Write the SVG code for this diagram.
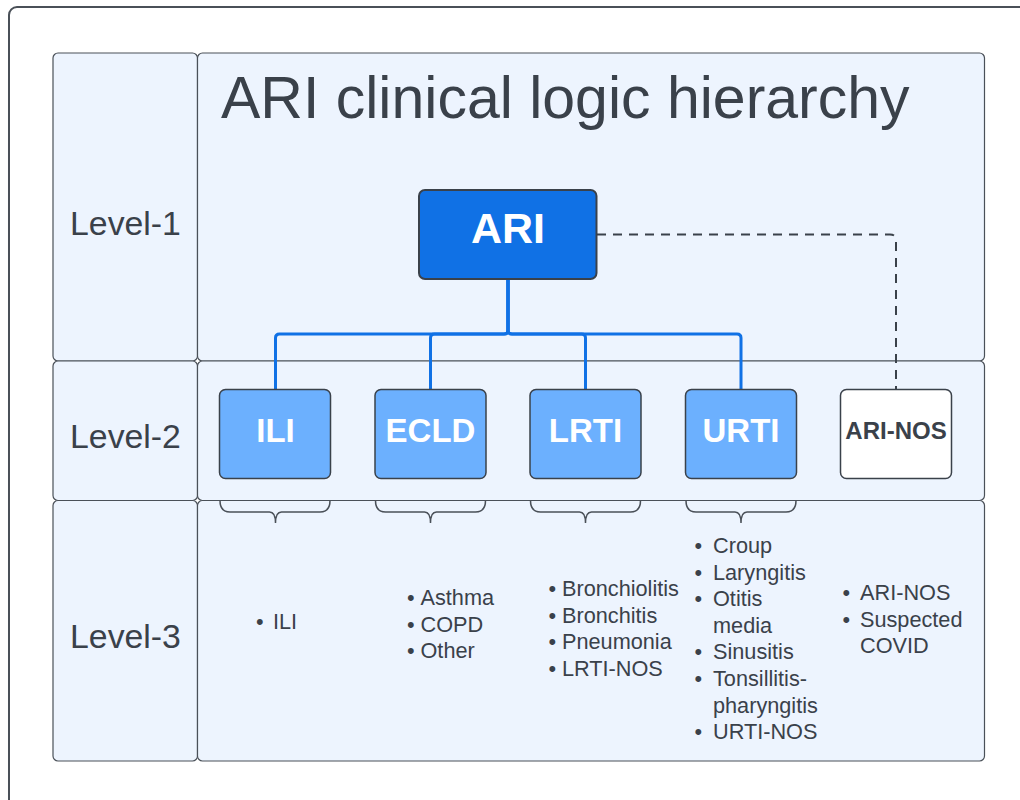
<svg xmlns="http://www.w3.org/2000/svg" width="1020" height="800" viewBox="0 0 1020 800">
  <style>
    .lane { fill: #edf4fe; stroke: #4a5058; stroke-width: 1.2; }
    .lbl { font-family: "Liberation Sans", Arial, sans-serif; font-size: 33.8px; fill: #3a414a; text-anchor: middle; }
    .title { font-family: "Liberation Sans", Arial, sans-serif; font-size: 59px; fill: #3a414a; }
    .child { fill: #6cb0fe; stroke: #3a414a; stroke-width: 1.5; }
    .ctext { font-family: "Liberation Sans", Arial, sans-serif; font-weight: bold; font-size: 33px; fill: #ffffff; text-anchor: middle; }
    .item { font-family: "Liberation Sans", Arial, sans-serif; font-size: 21.7px; fill: #3a414a; }
    .tree { fill: none; stroke: #1071e5; stroke-width: 3; stroke-linejoin: round; }
    .dash { fill: none; stroke: #3a414a; stroke-width: 2; stroke-dasharray: 9 7; }
    .brace { fill: none; stroke: #4a5058; stroke-width: 1.5; }
  </style>

  <!-- outer frame -->
  <rect x="9" y="7" width="1030" height="820" rx="8" fill="#ffffff" stroke="#4a5058" stroke-width="2"/>

  <!-- swimlane rows -->
  <g id="lanes">
    <rect class="lane" x="53" y="53" width="144.5" height="308" rx="5"/>
    <rect class="lane" x="53" y="361" width="144.5" height="139.5" rx="5"/>
    <rect class="lane" x="53" y="500.5" width="144.5" height="260.5" rx="5"/>
    <rect class="lane" x="197.5" y="53" width="787" height="308" rx="5"/>
    <rect class="lane" x="197.5" y="361" width="787" height="139.5" rx="5"/>
    <rect class="lane" x="197.5" y="500.5" width="787" height="260.5" rx="5"/>
    <text class="lbl" x="125.5" y="235">Level-1</text>
    <text class="lbl" x="125.5" y="448">Level-2</text>
    <text class="lbl" x="125.5" y="648">Level-3</text>
  </g>

  <text class="title" x="221" y="118">ARI clinical logic hierarchy</text>

  <!-- connectors -->
  <g id="connectors">
    <path class="tree" d="M508,279 V330 Q508,334 504,334 H279.5 Q275.5,334 275.5,338 V389.5"/>
    <path class="tree" d="M508,279 V330 Q508,334 504,334 H434.5 Q430.5,334 430.5,338 V389.5"/>
    <path class="tree" d="M508,279 V330 Q508,334 512,334 H581.5 Q585.5,334 585.5,338 V389.5"/>
    <path class="tree" d="M508,279 V330 Q508,334 512,334 H737 Q741,334 741,338 V389.5"/>
    <path class="dash" d="M597,234.5 H890 Q896,234.5 896,240.5 V389.5"/>
  </g>

  <!-- level 1 -->
  <g id="node-ari">
    <rect x="419" y="190" width="177.5" height="89" rx="6" fill="#1071e5" stroke="#3a414a" stroke-width="2"/>
    <text x="508" y="243" font-family="Liberation Sans, Arial, sans-serif" font-weight="bold" font-size="43" fill="#ffffff" text-anchor="middle">ARI</text>
  </g>

  <!-- level 2 -->
  <g id="node-ili">
    <rect class="child" x="219.5" y="389.5" width="111" height="89" rx="6"/>
    <text class="ctext" x="275.5" y="442">ILI</text>
  </g>
  <g id="node-ecld">
    <rect class="child" x="375" y="389.5" width="111" height="89" rx="6"/>
    <text class="ctext" x="430.5" y="442">ECLD</text>
  </g>
  <g id="node-lrti">
    <rect class="child" x="530" y="389.5" width="111" height="89" rx="6"/>
    <text class="ctext" x="585.5" y="442">LRTI</text>
  </g>
  <g id="node-urti">
    <rect class="child" x="685.5" y="389.5" width="111" height="89" rx="6"/>
    <text class="ctext" x="741" y="442">URTI</text>
  </g>
  <g id="node-ari-nos">
    <rect x="840.5" y="389.5" width="111" height="89" rx="6" fill="#ffffff" stroke="#3a414a" stroke-width="1.5"/>
    <text x="896" y="439" font-family="Liberation Sans, Arial, sans-serif" font-weight="bold" font-size="24" fill="#3a414a" text-anchor="middle">ARI-NOS</text>
  </g>

  <!-- braces under level 2 nodes -->
  <g id="braces">
    <path class="brace" d="M220,500.5 Q220,512 230,512 H269.5 Q275.5,512 275.5,523 Q275.5,512 281.5,512 H320 Q330,512 330,500.5"/>
    <path class="brace" d="M375.5,500.5 Q375.5,512 385.5,512 H424.5 Q430.5,512 430.5,523 Q430.5,512 436.5,512 H475.5 Q485.5,512 485.5,500.5"/>
    <path class="brace" d="M530.5,500.5 Q530.5,512 540.5,512 H579.5 Q585.5,512 585.5,523 Q585.5,512 591.5,512 H630.5 Q640.5,512 640.5,500.5"/>
    <path class="brace" d="M686,500.5 Q686,512 696,512 H735 Q741,512 741,523 Q741,512 747,512 H786 Q796,512 796,500.5"/>
  </g>

  <!-- level 3 lists -->
  <g id="list-ili" class="item">
    <text x="256" y="629">•</text>
    <text x="273" y="629">ILI</text>
  </g>
  <g id="list-ecld" class="item">
    <text x="407" y="605">•</text><text x="420.5" y="605">Asthma</text>
    <text x="407" y="631.5">•</text><text x="420.5" y="631.5">COPD</text>
    <text x="407" y="658">•</text><text x="420.5" y="658">Other</text>
  </g>
  <g id="list-lrti" class="item">
    <text x="548.5" y="596">•</text><text x="562" y="596">Bronchiolitis</text>
    <text x="548.5" y="622.5">•</text><text x="562" y="622.5">Bronchitis</text>
    <text x="548.5" y="649">•</text><text x="562" y="649">Pneumonia</text>
    <text x="548.5" y="675.5">•</text><text x="562" y="675.5">LRTI-NOS</text>
  </g>
  <g id="list-urti" class="item">
    <text x="694.5" y="553">•</text><text x="713" y="553">Croup</text>
    <text x="694.5" y="580">•</text><text x="713" y="580">Laryngitis</text>
    <text x="694.5" y="606">•</text><text x="713" y="606">Otitis</text>
    <text x="713" y="632.5">media</text>
    <text x="694.5" y="659">•</text><text x="713" y="659">Sinusitis</text>
    <text x="694.5" y="685.5">•</text><text x="713" y="685.5">Tonsillitis-</text>
    <text x="713" y="712.5">pharyngitis</text>
    <text x="694.5" y="739">•</text><text x="713" y="739">URTI-NOS</text>
  </g>
  <g id="list-ari-nos" class="item">
    <text x="842.5" y="600">•</text><text x="860" y="600">ARI-NOS</text>
    <text x="842.5" y="626.5">•</text><text x="860" y="626.5">Suspected</text>
    <text x="860" y="653">COVID</text>
  </g>
</svg>
